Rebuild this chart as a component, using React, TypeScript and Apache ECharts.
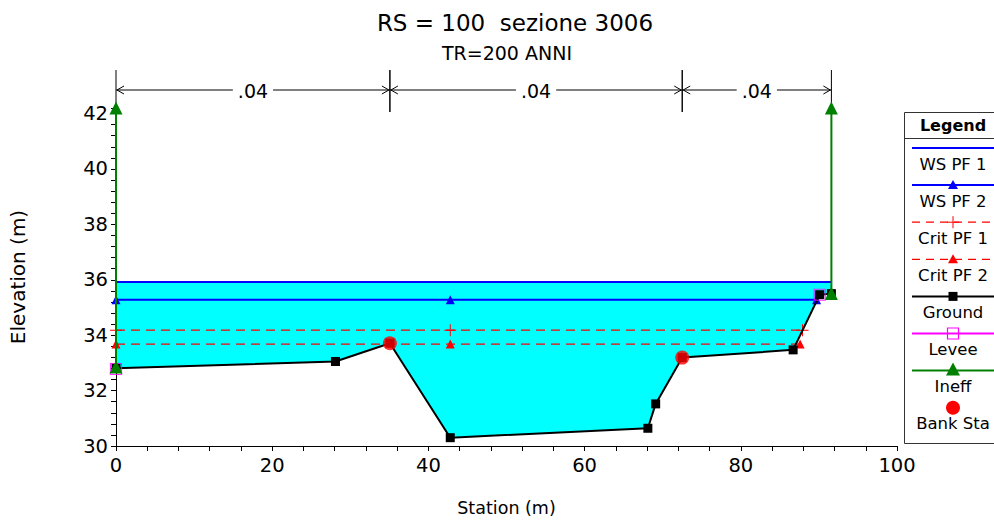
import React, { useEffect, useRef } from "react";
import * as echarts from "echarts";

const FONT = "'DejaVu Sans', 'Liberation Sans', Arial, sans-serif";

const groundPts: [number, number][] = [
  [0, 32.81], [28.1, 33.05], [35.07, 33.71], [42.8, 30.3], [68.1, 30.64],
  [69.1, 31.52], [72.5, 33.19], [86.7, 33.47], [90.1, 35.46], [91.6, 35.5],
];
const wsPF1: [number, number][] = [[0, 35.92], [91.6, 35.92]];
const wsPF2: [number, number][] = [[0, 35.28], [42.8, 35.28], [89.7, 35.28]];
const critPF1: [number, number][] = [[0, 34.18], [42.8, 34.18], [87.9, 34.18]];
const critPF2: [number, number][] = [[0, 33.68], [42.8, 33.68], [87.6, 33.68]];
const leveePts: [number, number][] = [[0, 32.78], [90.1, 35.46]];
const ineffLeft: [number, number][] = [[0, 32.85], [0, 42.2]];
const ineffRight: [number, number][] = [[91.6, 35.5], [91.6, 42.2]];
const bankPts: [number, number][] = [[35.07, 33.71], [72.5, 33.19]];
const nSegments: [number, number, string][] = [
  [0, 35.07, ".04"], [35.07, 72.5, ".04"], [72.5, 91.6, ".04"],
];
const xTicks = { min: 0, max: 100, interval: 20 };
const yTicks = { min: 30, max: 42.2, interval: 2 };

const legendItems = [
  { name: "WS PF 1", color: "#0000FF", dash: false, symbol: "none" },
  { name: "WS PF 2", color: "#0000FF", dash: false, symbol: "triangle" },
  { name: "Crit PF 1", color: "#FF0000", dash: true, symbol: "plus" },
  { name: "Crit PF 2", color: "#FF0000", dash: true, symbol: "triangle" },
  { name: "Ground", color: "#000000", dash: false, symbol: "square" },
  { name: "Levee", color: "#FF00FF", dash: false, symbol: "openSquare" },
  { name: "Ineff", color: "#008000", dash: false, symbol: "bigTriangle" },
  { name: "Bank Sta", color: "#FF0000", dash: false, symbol: "circle", noLine: true },
];

const PLUS = "path://M0,4.6H10V5.4H0Z M4.6,0H5.4V10H4.6Z";

function legendGraphics() {
  const els: any[] = [];
  const x0 = 904, y0 = 112, w = 100, h = 331;
  els.push({ type: "rect", shape: { x: x0 + 0.5, y: y0 + 0.5, width: w, height: h }, style: { fill: "#fff", stroke: "#333", lineWidth: 1 }, z: 10 });
  els.push({ type: "line", shape: { x1: x0, y1: 138.5, x2: 994, y2: 138.5 }, style: { stroke: "#333", lineWidth: 1 }, z: 11 });
  els.push({ type: "text", x: 953, y: 125, style: { text: "Legend", font: `bold 16px ${FONT}`, fill: "#000", align: "center", verticalAlign: "middle" }, z: 11 });
  legendItems.forEach((it, i) => {
    const ly = 148 + i * 37.1;
    const mx = 953;
    if (!(it as any).noLine) {
      els.push({ type: "line", shape: { x1: 912, y1: ly, x2: 994, y2: ly }, style: { stroke: it.color, lineWidth: it.dash ? 1.2 : 2, lineDash: it.dash ? [8, 6] : null }, z: 11 });
    }
    if (it.symbol === "triangle") {
      els.push({ type: "polygon", shape: { points: [[mx, ly - 5], [mx - 5, ly + 4], [mx + 5, ly + 4]] }, style: { fill: it.color }, z: 12 });
    } else if (it.symbol === "bigTriangle") {
      els.push({ type: "polygon", shape: { points: [[mx, ly - 8], [mx - 7, ly + 5], [mx + 7, ly + 5]] }, style: { fill: it.color }, z: 12 });
    } else if (it.symbol === "plus") {
      els.push({ type: "line", shape: { x1: mx - 6, y1: ly, x2: mx + 6, y2: ly }, style: { stroke: it.color, lineWidth: 1 }, z: 12 });
      els.push({ type: "line", shape: { x1: mx, y1: ly - 6, x2: mx, y2: ly + 6 }, style: { stroke: it.color, lineWidth: 1 }, z: 12 });
    } else if (it.symbol === "square") {
      els.push({ type: "rect", shape: { x: mx - 4.5, y: ly - 4.5, width: 9, height: 9 }, style: { fill: it.color }, z: 12 });
    } else if (it.symbol === "openSquare") {
      els.push({ type: "rect", shape: { x: mx - 5.5, y: ly - 5.5, width: 11, height: 11 }, style: { fill: "transparent", stroke: it.color, lineWidth: 1.2 }, z: 12 });
    } else if (it.symbol === "circle") {
      els.push({ type: "circle", shape: { cx: mx, cy: ly, r: 7 }, style: { fill: it.color }, z: 12 });
    }
    els.push({ type: "text", x: mx, y: ly + 16, style: { text: it.name, font: `16.5px ${FONT}`, fill: "#000", align: "center", verticalAlign: "middle" }, z: 12 });
  });
  return els;
}

export default function App() {
  const ref = useRef<HTMLDivElement>(null);
  useEffect(() => {
    if (!ref.current) return;
    const chart = echarts.init(ref.current, null, { renderer: "svg" });
    const fillPoly: [number, number][] = [
      [wsPF1[0][0], wsPF1[0][1]],
      [wsPF1[1][0], wsPF1[1][1]],
      ...groundPts.slice().reverse(),
    ];
    const lineBase = { type: "line", clip: false, silent: true, animation: false };
    const option: any = {
      animation: false,
      grid: { left: 115, right: 97, top: 108, bottom: 76, containLabel: false },
      xAxis: {
        type: "value", min: xTicks.min, max: xTicks.max, interval: xTicks.interval,
        name: "Station (m)", nameLocation: "middle", nameGap: 53,
        nameTextStyle: { fontFamily: FONT, fontSize: 17.5, color: "#000" },
        axisLine: { show: true, lineStyle: { color: "#000", width: 1 } },
        axisTick: { show: true, length: 5, lineStyle: { color: "#000" } },
        minorTick: { show: true, splitNumber: 5, length: 5, lineStyle: { color: "#000" } },
        splitLine: { show: false },
        axisLabel: { fontFamily: FONT, fontSize: 19.5, color: "#000", margin: 9 },
      },
      yAxis: {
        type: "value", min: yTicks.min, max: yTicks.max, interval: yTicks.interval,
        name: "Elevation (m)", nameLocation: "middle", nameGap: 88,
        nameTextStyle: { fontFamily: FONT, fontSize: 20, color: "#000" },
        axisLine: { show: true, lineStyle: { color: "#000", width: 1 } },
        axisTick: { show: true, length: 5, lineStyle: { color: "#000" } },
        minorTick: { show: true, splitNumber: 5, length: 5, lineStyle: { color: "#000" } },
        splitLine: { show: false },
        axisLabel: {
          fontFamily: FONT, fontSize: 19.5, color: "#000", margin: 8, showMaxLabel: false,
          formatter: (v: number) => (Math.abs(v % 2) < 1e-6 ? String(v) : ""),
        },
      },
      graphic: [
        { type: "text", x: 515, y: 23, style: { text: "RS = 100  sezione 3006", font: `23px ${FONT}`, fill: "#000", align: "center", verticalAlign: "middle" } },
        { type: "text", x: 507, y: 53, style: { text: "TR=200 ANNI", font: `19px ${FONT}`, fill: "#000", align: "center", verticalAlign: "middle" } },
        ...legendGraphics(),
      ],
      series: [
        {
          type: "custom", clip: false, silent: true, z: 1, data: [[0, 0]],
          renderItem: (_p: any, api: any) => ({
            type: "polygon",
            shape: { points: fillPoly.map((p) => api.coord(p)) },
            style: { fill: "#00FFFF", stroke: "none" },
          }),
        },
        {
          type: "custom", clip: false, silent: true, z: 5, data: nSegments,
          renderItem: (_p: any, api: any) => {
            const x1 = api.coord([api.value(0), yTicks.max])[0];
            const x2 = api.coord([api.value(1), yTicks.max])[0];
            const top = api.coord([0, yTicks.max])[1];
            const yA = top - 18, yT = top - 38, yB = top + 4;
            const st = { stroke: "#000", lineWidth: 1, fill: "none" };
            const label = nSegments[_p.dataIndex][2];
            return {
              type: "group",
              children: [
                { type: "line", shape: { x1, y1: yT, x2: x1, y2: yB }, style: st },
                { type: "line", shape: { x1: x2, y1: yT, x2: x2, y2: yB }, style: st },
                { type: "line", shape: { x1, y1: yA, x2, y2: yA }, style: st },
                { type: "polyline", shape: { points: [[x1 + 8, yA - 4], [x1 + 1, yA], [x1 + 8, yA + 4]] }, style: st },
                { type: "polyline", shape: { points: [[x2 - 8, yA - 4], [x2 - 1, yA], [x2 - 8, yA + 4]] }, style: st },
                {
                  type: "text", x: (x1 + x2) / 2, y: yA + 1,
                  style: { text: label, font: `19px ${FONT}`, fill: "#000", align: "center", verticalAlign: "middle", backgroundColor: "#fff", padding: [0, 5] },
                },
              ],
            };
          },
        },
        { ...lineBase, name: "WS PF 1", z: 3, data: wsPF1, symbol: "none", lineStyle: { color: "#0000FF", width: 2 } },
        { ...lineBase, name: "WS PF 2", z: 3, data: wsPF2, symbol: "triangle", symbolSize: 9, itemStyle: { color: "#0000FF" }, lineStyle: { color: "#0000FF", width: 2 } },
        { ...lineBase, name: "Crit PF 1", z: 3, data: critPF1, symbol: PLUS, symbolSize: 12, itemStyle: { color: "#FF0000" }, lineStyle: { color: "#FF0000", width: 1.2, type: [9, 6] } },
        { ...lineBase, name: "Crit PF 2", z: 3, data: critPF2, symbol: "triangle", symbolSize: 9, itemStyle: { color: "#FF0000" }, lineStyle: { color: "#FF0000", width: 1.2, type: [9, 6] } },
        { ...lineBase, name: "Ground", z: 4, data: groundPts, symbol: "rect", symbolSize: 9, itemStyle: { color: "#000" }, lineStyle: { color: "#000", width: 2 } },
        { type: "scatter", name: "Levee", clip: false, silent: true, z: 4, data: leveePts, symbol: "rect", symbolSize: 11, itemStyle: { color: "transparent", borderColor: "#FF00FF", borderWidth: 1.2 } },
        { ...lineBase, name: "Ineff", z: 6, data: ineffLeft, symbol: "triangle", symbolSize: 13, itemStyle: { color: "#008000" }, lineStyle: { color: "#008000", width: 2 } },
        { ...lineBase, name: "Ineff", z: 6, data: ineffRight, symbol: "triangle", symbolSize: 13, itemStyle: { color: "#008000" }, lineStyle: { color: "#008000", width: 2 } },
        { type: "scatter", name: "Bank Sta", clip: false, silent: true, z: 5, data: bankPts, symbol: "circle", symbolSize: 14, itemStyle: { color: "#FF0000" } },
      ],
    };
    chart.setOption(option);
    return () => chart.dispose();
  }, []);
  return <div ref={ref} style={{ position: "fixed", left: 0, top: 0, width: 994, height: 522, background: "#fff" }} />;
}
